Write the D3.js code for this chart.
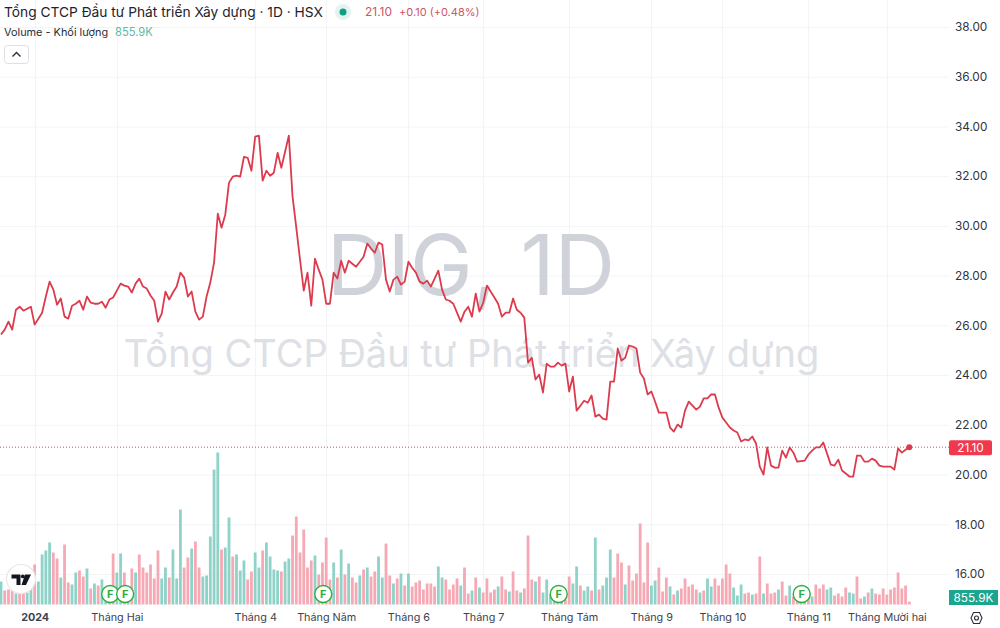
<!DOCTYPE html>
<html><head><meta charset="utf-8">
<script src="https://cdnjs.cloudflare.com/ajax/libs/d3/7.8.5/d3.min.js"></script>
<style>html,body{margin:0;padding:0;background:#fff}svg{display:block}text{font-family:Inter,"Open Sans",sans-serif}</style>
</head><body><svg id="c" width="1000" height="628"></svg>
<script>
const prices=[25.63,25.83,26.15,25.83,26.63,26.75,26.59,26.67,26.75,26.03,26.27,26.51,27.16,27.76,27.44,26.83,27.08,26.35,26.27,26.79,26.87,26.99,26.63,27.16,26.91,26.87,26.87,26.95,26.71,27.04,27.12,27.40,27.68,27.60,27.56,27.32,27.68,27.88,27.56,27.48,27.20,26.99,26.15,26.47,27.36,27.04,27.32,27.56,28.12,27.92,27.16,27.36,26.55,26.23,26.35,27.16,27.72,28.52,30.49,29.93,30.45,31.74,31.98,32.02,31.98,32.78,32.74,32.22,33.59,33.63,31.82,32.22,32.02,32.14,32.94,32.34,32.98,33.63,31.18,29.93,28.64,27.40,28.12,26.79,28.68,28.24,27.84,26.87,26.87,28.12,27.88,28.60,28.12,28.60,28.48,28.36,28.56,28.76,29.29,29.09,28.92,29.33,29.25,27.84,27.36,27.84,27.96,27.64,27.76,28.56,28.32,28.12,27.76,27.68,27.80,27.56,27.88,28.20,27.44,27.04,26.99,26.87,26.51,26.15,26.55,26.75,26.35,27.28,26.55,26.91,27.60,27.36,27.12,26.87,26.35,26.51,26.51,27.08,26.63,26.51,26.31,24.50,24.70,23.82,24.02,23.30,24.46,24.34,24.34,24.50,24.38,24.46,23.34,23.94,22.57,22.77,22.97,22.89,23.18,22.33,22.41,22.25,22.21,23.74,23.74,25.07,24.58,24.70,25.19,25.15,25.07,24.10,23.86,23.22,23.34,22.93,22.49,22.49,22.49,21.89,21.73,22.01,21.89,22.57,22.93,22.77,22.61,22.73,23.06,23.06,23.22,23.22,22.69,22.29,22.09,21.89,21.77,21.69,21.33,21.41,21.37,21.53,21.25,20.32,20.00,21.09,20.36,20.28,20.28,20.96,20.68,21.09,20.88,20.52,20.54,20.56,20.80,20.96,21.09,21.09,21.29,20.84,20.40,20.36,20.60,20.16,20.04,19.92,19.92,20.76,20.76,20.52,20.52,20.64,20.56,20.36,20.32,20.32,20.32,20.20,21.05,20.88,21.00,21.10];
const volumes=[6.9,4.2,4.5,4.2,3.3,4.2,4.2,3.6,7.5,12,6.9,15,16.2,18.6,15.6,13.8,8.1,18,6.6,6,9.6,10.2,8.4,10.8,4.8,6.3,5.7,7.5,3.6,3,15.3,9.6,15.3,9.6,4.2,10.8,9.6,15,11.1,9.6,12,7.8,16.2,7.8,11.1,8.1,16.5,7.8,28.5,11.1,14.1,16.8,18.9,11.1,8.4,8.7,20.4,40.5,45.6,16.5,17.1,26.1,14.4,15,10.2,13.2,7.5,9.9,15.6,11.1,16.2,18.6,14.4,10.5,10.2,9.9,12.9,13.8,20.7,26.4,15.6,22.5,11.1,13.2,14.7,9,12.6,20.1,7.5,12.6,8.1,16.5,9,12.3,8.1,6.6,8.7,10.5,11.1,8.4,9.9,14.4,8.1,18.3,8.7,6.3,7.8,9.3,5.7,9.3,5.4,6.6,7.2,4.5,6.3,6.3,5.4,11.4,8.1,7.5,4.5,6,7.8,5.7,11.1,3.3,4.2,8.1,5.1,3.6,7.8,3.6,4.5,5.4,8.4,4.5,3.9,9.9,4.2,3.6,4.8,20.7,7.5,6.9,8.4,3.6,7.5,3,2.4,1.5,1.5,1.5,8.4,6.3,11.4,5.7,4.2,5.4,4.2,20.1,4.5,5.7,8.1,16.5,8.1,15.3,12.6,6,11.7,7.2,9.3,24.3,6.6,18.6,5.7,7.2,11.1,3.9,8.1,5.4,3,4.2,4.8,7.8,5.4,6,4.5,3.6,4.2,7.8,5.4,7.8,5.7,7.8,12,9.3,5.1,2.7,6,3.3,3.6,3,3.3,14.4,3.3,6.3,3.3,3.6,4.5,6.9,2.7,5.7,2.4,1.8,1.8,1.8,2.1,2.4,6,4.8,6,4.5,5.1,2.7,3.3,2.4,5.1,3.6,3.3,8.4,1.8,2.4,3.6,4.8,3.3,3,4.8,3,4.5,5.1,9.6,4.8,5.7,0.856];
const upFlags="TRRRTRRTTRTTTTRRTRRTTRRTRTRTTRRTTRTRTRRRRRRTTRTTTRRTRRTTTTTRTTRTTTRRTTRTTTTRTTRRRRRRTRRRRTRTRTRRTRTRRTTRRTRTRTRRRRRRRTTRRRRTRRTRTRRRRTRRTRRTRRRTRTTTTRTRRTTRTTRTRTTTRRRTRRRRRRTTRRRTRTRRRRRTRTTRRRRRTTTRRTRRTRRRTRRTRRTRRTRRRTTRRRRTTRRTRT";
const yTicks=[38,36,34,32,30,28,26,24,22,20,18,16];
const monthIdx=[9,31,68,87,109,129,152,174,193,216,237];
const monthLabels=["2024","Tháng Hai","Tháng 4","Tháng Năm","Tháng 6","Tháng 7","Tháng Tám","Tháng 9","Tháng 10","Tháng 11","Tháng Mười hai"];
const fIdx=[29,33,86,149,214];
const title="Tổng CTCP Đầu tư Phát triển Xây dựng · 1D · HSX";
const wmA="DIG, 1D", wmB="Tổng CTCP Đầu tư Phát triển Xây dựng";
const n=prices.length;
const svg=d3.select("#c");
const x=d3.scaleLinear().domain([0,n-1]).range([1,909.3]);
const y=d3.scaleLinear().domain([16,38]).range([574,27]);
const yV=d3.scaleLinear().domain([0,45.6]).range([604.5,452.5]);
const teal="#8fd2c8",pink="#f6a9b4",red="#dc3b4e";
// grid
const g=svg.append("g");
g.selectAll(".h").data(yTicks).join("line").attr("x1",0).attr("x2",949).attr("y1",d=>y(d)+.5).attr("y2",d=>y(d)+.5).attr("stroke","#f3f4f6");
g.selectAll(".v").data(monthIdx).join("line").attr("x1",d=>Math.round(x(d))+.5).attr("x2",d=>Math.round(x(d))+.5).attr("y1",0).attr("y2",605).attr("stroke","#f3f4f6");
// watermark
svg.append("text").attr("x",471).attr("y",295).attr("text-anchor","middle").attr("font-size",84).attr("fill","#cfd3d9").text(wmA);
svg.append("text").attr("x",471.5).attr("y",367).attr("text-anchor","middle").attr("font-size",38).attr("fill","#dde0e4").text(wmB);
// bars
svg.append("g").selectAll("rect").data(volumes).join("rect")
 .attr("x",(d,i)=>x(i)-1.4).attr("width",2.8).attr("y",d=>yV(d)).attr("height",d=>yV(0)-yV(d))
 .attr("fill",(d,i)=>upFlags[i]==="T"?teal:pink);
// last price line
svg.append("line").attr("x1",0).attr("x2",949).attr("y1",y(21.1)).attr("y2",y(21.1)).attr("stroke","#c9505f").attr("stroke-width",1).attr("stroke-dasharray","1 2");
// price line
const line=d3.line().x((d,i)=>x(i)).y(d=>y(d));
svg.append("path").attr("d",line(prices)).attr("fill","none").attr("stroke",red).attr("stroke-width",1.8).attr("stroke-linejoin","round");
svg.append("circle").attr("cx",x(n-1)).attr("cy",y(prices[n-1])).attr("r",3).attr("fill",red);
// axes
const ax=svg.append("g").attr("transform","translate(0,605)").call(d3.axisBottom(x).tickValues(monthIdx).tickSize(0).tickFormat((d,i)=>monthLabels[i]));
ax.select(".domain").remove();
ax.selectAll("text").attr("y",8).attr("font-size",10.8).attr("fill","#3d4250").attr("font-family","Inter").attr("font-weight",(d,i)=>i===0?700:400);
const ay=svg.append("g").attr("transform","translate(955,0)").call(d3.axisRight(y).tickValues(yTicks).tickSize(0).tickFormat(d3.format(".2f")));
ay.select(".domain").remove();
ay.selectAll("text").attr("x",0).attr("font-size",11.8).attr("fill","#30343f").attr("font-family","Inter");
// labels on price axis
svg.append("rect").attr("x",949).attr("y",y(21.1)-7).attr("width",43).attr("height",15).attr("rx",2).attr("fill","#f0394d");
svg.append("text").attr("x",970.5).attr("y",y(21.1)+4.5).attr("text-anchor","middle").attr("font-size",11.8).attr("fill","#fff").text("21.10");
svg.append("rect").attr("x",949).attr("y",590).attr("width",49).attr("height",15).attr("fill","#1ba58f");
svg.append("text").attr("x",973.5).attr("y",602).attr("text-anchor","middle").attr("font-size",11.8).attr("fill","#fff").text("855.9K");
// legend
svg.append("text").attr("x",4).attr("y",16.5).attr("font-size",13.75).attr("fill","#1e222d").text(title);
svg.append("circle").attr("cx",343).attr("cy",12).attr("r",8).attr("fill","#e3f3f0");
svg.append("circle").attr("cx",343).attr("cy",12).attr("r",3.5).attr("fill","#119e86");
svg.append("text").attr("x",365).attr("y",16).attr("font-size",12).attr("fill","#cf5566").text("21.10");
svg.append("text").attr("x",399).attr("y",16).attr("font-size",11).attr("fill","#cf5566").text("+0.10 (+0.48%)");
svg.append("text").attr("x",4).attr("y",36).attr("font-size",10.9).attr("fill","#2a2e39").text("Volume - Khối lượng");
svg.append("text").attr("x",115).attr("y",36).attr("font-size",11.2).attr("fill","#5fb8a8").text("855.9K");
svg.append("rect").attr("x",4.5).attr("y",45.5).attr("width",24).attr("height",18).attr("rx",3).attr("fill","#fff").attr("stroke","#dcdfe4");
svg.append("path").attr("d","M12.5 56.5L16.5 52.5L20.5 56.5").attr("fill","none").attr("stroke","#2a2e39").attr("stroke-width",1.4);
// F markers
const fg=svg.append("g").selectAll("g").data(fIdx).join("g").attr("transform",d=>`translate(${x(d)+.8},594)`);
fg.append("circle").attr("r",8.5).attr("fill","#fff").attr("stroke","#2fae3e").attr("stroke-width",1.4);
fg.append("text").attr("text-anchor","middle").attr("y",4).attr("font-size",11).attr("font-weight",700).attr("fill","#2fae3e").text("F");
// logo
svg.append("circle").attr("cx",21).attr("cy",579).attr("r",14.5).attr("fill","#fff").attr("stroke","#e6e7ea").attr("stroke-width",1.2);
svg.append("path").attr("d","M11.5 574.5H20.5V585H16.5V578.5H11.5Z M25 574.5H31L26 585H21.5Z").attr("fill","#131722");
svg.append("circle").attr("cx",22.8).attr("cy",576.4).attr("r",1.9).attr("fill","#131722");
// settings
svg.append("path").attr("d","M971 618L973.5 612.5H979.5L982 618L979.5 623.5H973.5Z").attr("fill","none").attr("stroke","#2a2e39").attr("stroke-width",1.1);
svg.append("circle").attr("cx",976.5).attr("cy",618).attr("r",2).attr("fill","none").attr("stroke","#2a2e39").attr("stroke-width",1.1);
</script></body></html>
